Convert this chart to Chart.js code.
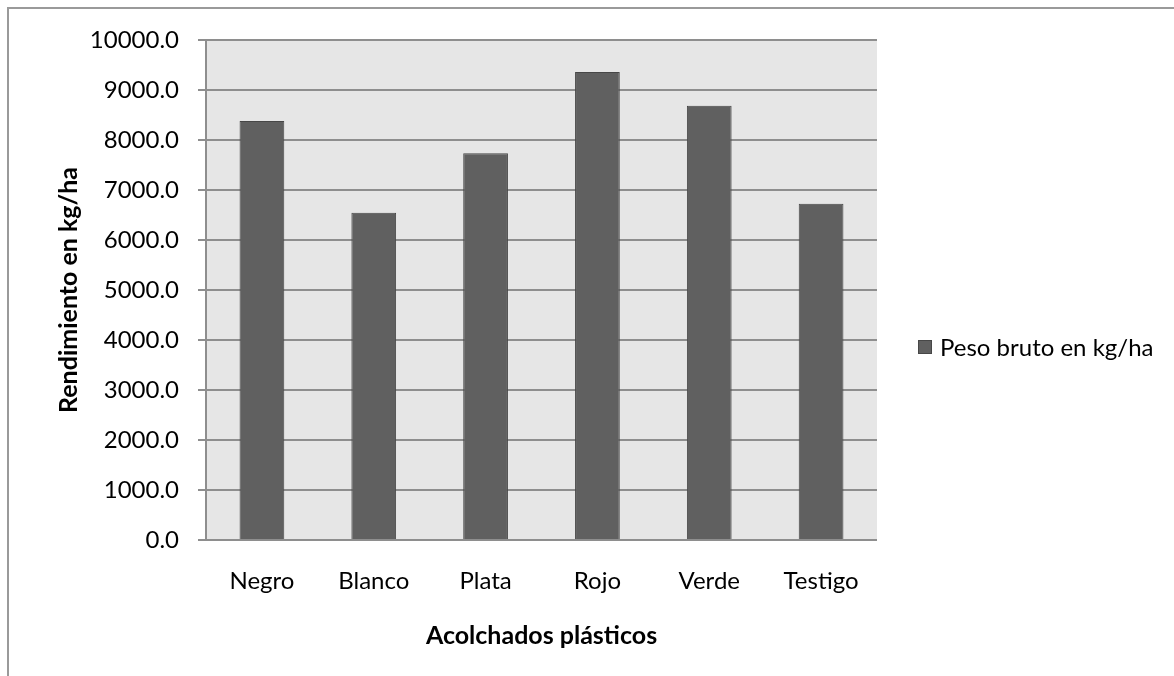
<!DOCTYPE html>
<html>
<head>
<meta charset="utf-8">
<script src="https://cdn.jsdelivr.net/npm/chart.js@4"></script>
<style>
  html, body { margin: 0; padding: 0; background: #ffffff; }
  #wrap { width: 1174px; height: 676px; position: relative; }
</style>
</head>
<body>
<div id="wrap"><canvas id="chart" width="1174" height="676"></canvas></div>
<script>
// Rendimiento por tipo de acolchado
const categories = ['Negro', 'Blanco', 'Plata', 'Rojo', 'Verde', 'Testigo'];
const pesoBruto = [8380, 6545, 7735, 9360, 8685, 6725];
const seriesLabel = 'Peso bruto en kg/ha';
const yTicks = [0, 1000, 2000, 3000, 4000, 5000, 6000, 7000, 8000, 9000, 10000];
const xTitle = 'Acolchados plásticos';
const yTitle = 'Rendimiento en kg/ha';

const FONT = 'Lato, "Open Sans", sans-serif';
const GRID = '#8e8e8e';

// Outer frame and plot background
const backdrop = {
  id: 'backdrop',
  beforeDraw(chart) {
    const ctx = chart.ctx;
    const a = chart.chartArea;
    ctx.save();
    ctx.strokeStyle = '#9a9a9a';
    ctx.lineWidth = 2;
    ctx.strokeRect(8, 8, chart.width + 20, chart.height + 20);
    ctx.fillStyle = '#e6e6e6';
    ctx.fillRect(a.left, a.top, a.right - a.left, a.bottom - a.top);
    ctx.restore();
  }
};

// Legend entry to the right of the plot
const sideLegend = {
  id: 'sideLegend',
  afterDraw(chart) {
    const ctx = chart.ctx;
    const ds = chart.data.datasets[0];
    const x = 918, y = 347;
    ctx.save();
    ctx.fillStyle = ds.backgroundColor;
    ctx.strokeStyle = ds.borderColor;
    ctx.lineWidth = 1;
    ctx.fillRect(x, y - 7, 14, 14);
    ctx.strokeRect(x + 0.5, y - 6.5, 13, 13);
    ctx.fillStyle = '#000000';
    ctx.font = '24px ' + FONT;
    ctx.textBaseline = 'middle';
    ctx.textAlign = 'left';
    ctx.fillText(ds.label, x + 22, y + 1);
    ctx.restore();
  }
};

new Chart(document.getElementById('chart'), {
  type: 'bar',
  data: {
    labels: categories,
    datasets: [{
      label: seriesLabel,
      data: pesoBruto,
      backgroundColor: '#606060',
      borderColor: '#474747',
      borderWidth: 1,
      categoryPercentage: 1,
      barPercentage: 0.4
    }]
  },
  options: {
    responsive: false,
    animation: false,
    layout: { padding: { left: 0, top: 40, right: 297, bottom: 0 } },
    plugins: {
      legend: { display: false },
      tooltip: { enabled: false }
    },
    scales: {
      x: {
        grid: { display: false, drawTicks: false },
        border: { display: false },
        ticks: { color: '#000000', font: { family: FONT, size: 24 }, padding: 27 },
        title: {
          display: true, text: xTitle, color: '#000000',
          font: { family: FONT, size: 25, weight: 'bold' },
          padding: { top: 0, bottom: 25 }
        },
        afterFit(scale) { scale.height = 136; }
      },
      y: {
        min: 0, max: 10000,
        afterBuildTicks(scale) { scale.ticks = yTicks.map(v => ({ value: v })); },
        grid: { color: GRID, lineWidth: 2, tickLength: 8, drawTicks: true },
        border: { display: true, color: GRID, width: 2 },
        ticks: {
          color: '#000000', font: { family: FONT, size: 24 }, padding: 19,
          callback: v => Number(v).toFixed(1)
        },
        title: {
          display: true, text: yTitle, color: '#000000',
          font: { family: FONT, size: 25, weight: 'bold' },
          padding: { top: 54, bottom: 0 }
        },
        afterFit(scale) { scale.width = 206; }
      }
    }
  },
  plugins: [backdrop, sideLegend]
});
</script>
</body>
</html>
